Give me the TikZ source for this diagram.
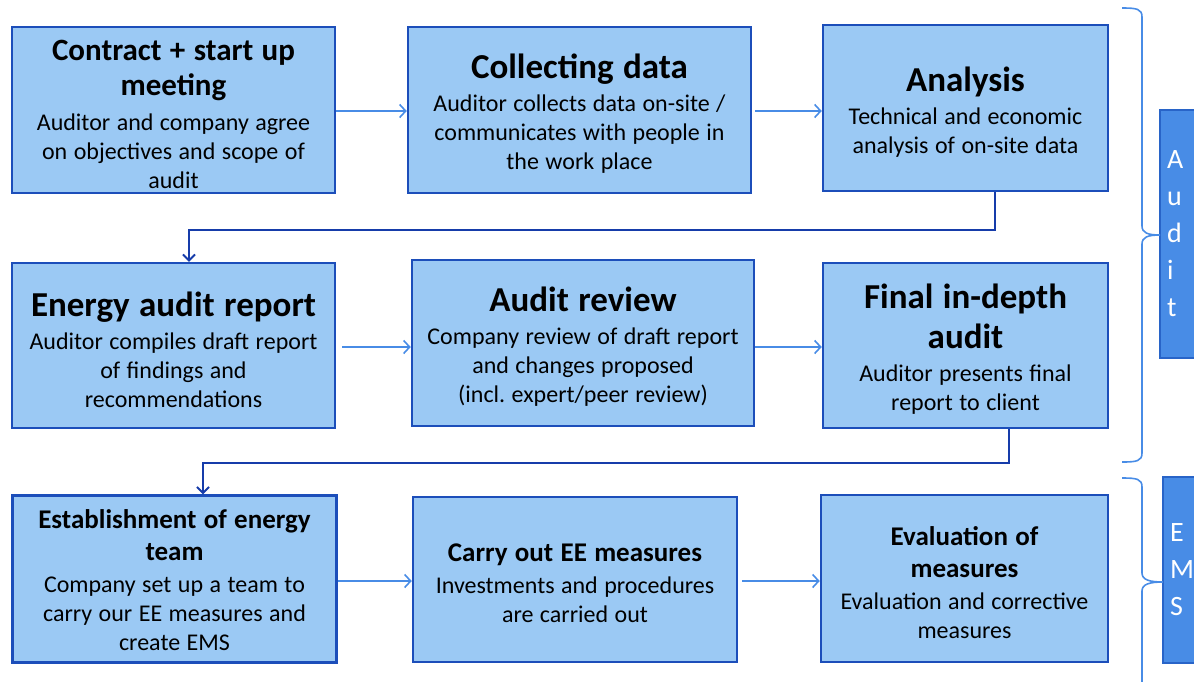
\documentclass[tikz,border=0pt]{standalone}
\usepackage{fontspec}
\setmainfont{Carlito}
\usetikzlibrary{arrows.meta,calc}
\definecolor{boxfill}{RGB}{155,201,244}
\definecolor{boxline}{RGB}{28,78,186}
\definecolor{sidefill}{RGB}{72,140,230}
\definecolor{sideline}{RGB}{40,100,200}
\definecolor{thinline}{RGB}{72,140,230}
\definecolor{darkline}{RGB}{22,60,170}

% fixed word spaces, set after each size change
\newcommand\wsp{\spaceskip=0.27em\relax\xspaceskip=0.27em\relax}
% title lines in three sizes, body text
\newcommand\ttlL[1]{{\fontsize{35}{40}\selectfont\bfseries\wsp #1\par}\vspace{4pt}}
\newcommand\ttlM[1]{{\fontsize{31}{35}\selectfont\bfseries\wsp #1\par}\vspace{6pt}}
\newcommand\ttlS[1]{{\fontsize{27}{32}\selectfont\bfseries\wsp #1\par}\vspace{3pt}}
\newcommand\bodytxt[1]{{\fontsize{24}{29}\selectfont\wsp #1\par}}
\newcommand\sidetxt[1]{{\fontsize{28}{37}\selectfont #1\par}}
% box contents, lowered by #1 without changing the box size
\newcommand\lowered[2]{\raisebox{-#1pt}[\height][\depth]{\parbox{\hsize}{\centering #2}}}

\begin{document}
\begin{tikzpicture}[x=1pt,y=-1pt,
  stepbox/.style={draw=boxline, fill=boxfill, line width=2.5pt, align=center,
    inner sep=0pt, text=black},
  sidebox/.style={draw=sideline, fill=sidefill, line width=2pt, align=left,
    inner ysep=0pt, inner xsep=7pt, text=white},
  thinarrow/.style={draw=thinline, line width=1.6pt,
    -{Straight Barb[length=6pt,width=13pt,line width=1.6pt]}},
  darkarrow/.style={draw=darkline, line width=2pt,
    -{Straight Barb[length=6pt,width=12pt,line width=1.8pt]}},
  bracket/.style={draw=thinline, line width=1.6pt}]

\useasboundingbox (0,0) rectangle (1194,681);

% process steps
\node[stepbox, minimum width=323, minimum height=166, text width=313] (b1) at (173.5,110)
  {\lowered{4}{\ttlM{Contract + start up\\meeting}\bodytxt{Auditor and company agree\\on objectives and scope of\\audit}}};
\node[stepbox, minimum width=343, minimum height=166, text width=333] (b2) at (579.5,110)
  {\lowered{4}{\ttlL{Collecting data}\bodytxt{Auditor collects data on-site /\\communicates with people in\\the work place}}};
\node[stepbox, minimum width=285, minimum height=166, text width=275] (b3) at (965.5,108)
  {\lowered{4}{\ttlL{Analysis}\bodytxt{Technical and economic\\analysis of on-site data}}};

\node[stepbox, minimum width=323, minimum height=165, text width=313] (b4) at (173.5,345.5)
  {\lowered{4}{\ttlL{Energy audit report}\bodytxt{Auditor compiles draft report\\of findings and\\recommendations}}};
\node[stepbox, minimum width=342, minimum height=166, text width=332] (b5) at (583,343)
  {\lowered{4}{\ttlL{Audit review}\bodytxt{Company review of draft report\\and changes proposed\\(incl. expert/peer review)}}};
\node[stepbox, minimum width=285, minimum height=165, text width=275] (b6) at (965.5,345.5)
  {\lowered{4}{\ttlL{Final in-depth\\audit}\bodytxt{Auditor presents final\\report to client}}};

\node[stepbox, minimum width=324, minimum height=167, text width=314] (b7) at (174.5,579)
  {\lowered{1}{\ttlS{Establishment of energy\\team}\bodytxt{Company set up a team to\\carry our EE measures and\\create EMS}}};
\node[stepbox, minimum width=324, minimum height=165, text width=314] (b8) at (575,579.5)
  {\lowered{4}{\ttlS{Carry out EE measures}\bodytxt{Investments and procedures\\are carried out}}};
\node[stepbox, minimum width=287, minimum height=167, text width=277] (b9) at (964.5,578.5)
  {\lowered{4}{\ttlS{Evaluation of\\measures}\bodytxt{Evaluation and corrective\\measures}}};

% phase labels
\node[sidebox, minimum width=40, minimum height=248, text width=26] (audit) at (1180,234)
  {\sidetxt{A\\u\\d\\i\\t}};
\node[sidebox, minimum width=40, minimum height=186, text width=26] (ems) at (1183,570)
  {\sidetxt{E\\M\\S}};

% arrows within each row
\coordinate (r1) at (0,111);
\coordinate (r2) at (0,347);
\coordinate (r3) at (0,581);
\draw[thinarrow] (b1.east |- r1) -- (b2.west |- r1);
\draw[thinarrow, shorten <=3pt] (b2.east |- r1) -- (b3.west |- r1);
\draw[thinarrow, shorten <=6pt] (b4.east |- r2) -- (b5.west |- r2);
\draw[thinarrow] (b5.east |- r2) -- (b6.west |- r2);
\draw[thinarrow] (b7.east |- r3) -- (b8.west |- r3);
\draw[thinarrow, shorten <=4pt] (b8.east |- r3) -- (b9.west |- r3);

% elbow connectors between rows
\coordinate (k1) at (189,230);
\coordinate (k2) at (203,463);
\draw[darkarrow] ($(b3.south)+(29.5,0)$) |- (k1) -- (k1 |- b4.north);
\draw[darkarrow] ($(b6.south)+(43.5,0)$) |- (k2) -- (k2 |- b7.north);

% brackets grouping the phases
\coordinate (t1) at (1160,235);
\coordinate (t2) at (1163,582);
\draw[bracket] (1122,8) .. controls (1137,8) and (1142,9) .. (1142,17)
  -- (1142,226) .. controls (1142,233) and (1148,235) .. (t1)
  .. controls (1148,235) and (1142,237) .. (1142,244)
  -- (1142,453) .. controls (1142,461) and (1137,462) .. (1122,462);
\draw[bracket] (1122,478) .. controls (1137,478) and (1142,479) .. (1142,487)
  -- (1142,573) .. controls (1142,580) and (1150,582) .. (t2)
  .. controls (1150,582) and (1142,584) .. (1142,591)
  -- (1142,690);
\end{tikzpicture}
\end{document}
